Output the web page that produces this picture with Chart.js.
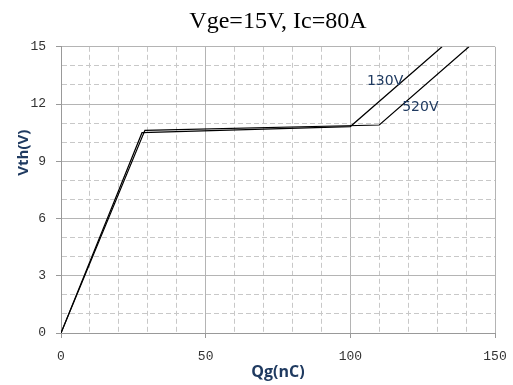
<!DOCTYPE html>
<html>
<head>
<meta charset="utf-8">
<script src="https://cdn.jsdelivr.net/npm/chart.js@4/dist/chart.umd.min.js"></script>
<style>
  body { margin:0; background:#fff; }
  #grafico { display:block; }
</style>
</head>
<body>
<canvas id="grafico" width="513" height="385"></canvas>
<script>
// Dados
const qg130 = [0, 28, 100, 131.7];
const vth130 = [0, 10.5, 10.82, 15];
const qg520 = [0, 29, 110, 141];
const vth520 = [0, 10.62, 10.9, 15];

const rotulos = ['130V', '520V'];
const rotuloQg = [112, 124.2];
const rotuloV = [13.2, 11.8];

const corMaior = '#b4b4b4';
const corMenor = '#c8c8c8';
const corTexto = '#1f3a60';

function pontos(xs, ys){ return xs.map((x,i)=>({x:x, y:ys[i]})); }

// Rótulos das curvas e título do eixo Y
const textos = {
  id:'textos',
  afterDatasetsDraw(chart){
    const c = chart.ctx, sx = chart.scales.x, sy = chart.scales.y, a = chart.chartArea;
    c.save();
    c.font = '14px "DejaVu Sans"';
    c.fillStyle = corTexto;
    c.textAlign = 'center'; c.textBaseline = 'middle';
    rotulos.forEach((t,i)=> c.fillText(t, sx.getPixelForValue(rotuloQg[i]), sy.getPixelForValue(rotuloV[i])));
    c.font = 'bold 15px "Open Sans"';
    c.translate(24, a.top + (a.bottom - a.top) * 0.37);
    c.rotate(-Math.PI/2);
    c.fillText('Vth(V)', 0, 0);
    c.restore();
  }
};

new Chart(document.getElementById('grafico'), {
  type:'scatter',
  data:{ datasets:[
    { label:'130V', data:pontos(qg130, vth130), showLine:true, borderColor:'#000', borderWidth:1.2, pointRadius:0, tension:0 },
    { label:'520V', data:pontos(qg520, vth520), showLine:true, borderColor:'#000', borderWidth:1.2, pointRadius:0, tension:0 }
  ]},
  options:{
    responsive:false, animation:false,
    layout:{ padding:{ top:0, right:18, bottom:3, left:0 } },
    plugins:{
      legend:{ display:false }, tooltip:{ enabled:false },
      title:{ display:true, fullSize:false, text:'Vge=15V, Ic=80A', color:'#000',
        font:{ family:'"Liberation Serif"', size:24, weight:'normal' }, padding:{ top:7, bottom:11 } }
    },
    scales:{
      x:{
        type:'linear', min:0, max:150,
        afterFit: s => { s.height = 49; s.paddingRight = 0; s.paddingLeft = 0; },
        ticks:{ stepSize:10, autoSkip:false, maxRotation:0, padding:11, color:'#333',
          font:{ family:'"Liberation Mono"', size:13 },
          callback: v => v % 50 === 0 ? v : '' },
        grid:{ color: c => c.tick && c.tick.value % 50 === 0 ? corMaior : corMenor,
          tickColor: c => c.tick && c.tick.value % 50 === 0 ? '#999' : 'rgba(0,0,0,0)', tickLength:5 },
        border:{ color:'#999', dash: c => c.tick && c.tick.value % 50 !== 0 ? [5,3] : [] },
        title:{ display:true, text:'Qg(nC)', color:corTexto, padding:0,
          font:{ family:'"Open Sans"', size:16, weight:'bold' } }
      },
      y:{
        min:0, max:15,
        afterFit: s => { s.width = 61; },
        ticks:{ stepSize:1, autoSkip:false, padding:10, color:'#333',
          font:{ family:'"Liberation Mono"', size:13 },
          callback: v => v % 3 === 0 ? v : '' },
        grid:{ color: c => c.tick && c.tick.value % 3 === 0 ? corMaior : corMenor,
          tickColor: c => c.tick && c.tick.value % 3 === 0 ? '#999' : 'rgba(0,0,0,0)', tickLength:5 },
        border:{ color:'#999', dash: c => c.tick && c.tick.value % 3 !== 0 ? [5,3] : [] }
      }
    }
  },
  plugins:[textos]
});
</script>
</body>
</html>
